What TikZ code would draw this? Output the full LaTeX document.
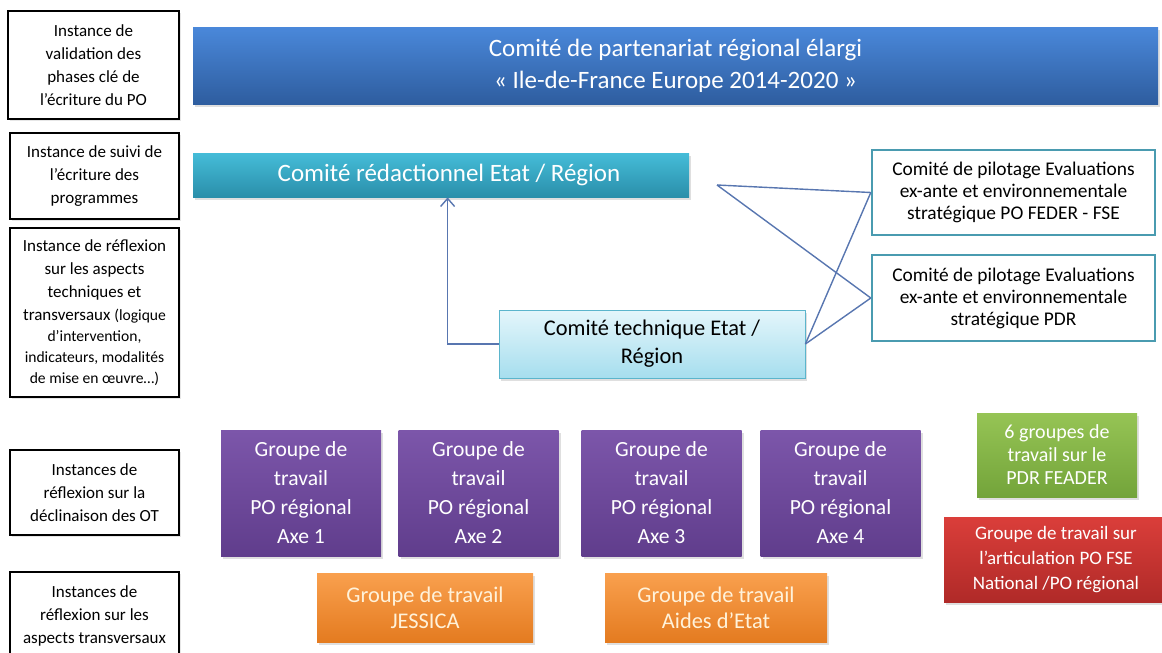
\documentclass[tikz,border=0pt]{standalone}
\usepackage{fontspec}
\setmainfont{Carlito}
\usetikzlibrary{arrows.meta,shadows}
\definecolor{linkblue}{HTML}{5876B0}
\definecolor{tealframe}{HTML}{4A9BB0}
\definecolor{gttop}{RGB}{124,86,170}
\definecolor{gtbottom}{RGB}{96,61,140}
\definecolor{orangetop}{RGB}{249,160,78}
\definecolor{orangebottom}{RGB}{228,123,32}
\definecolor{cream}{RGB}{255,242,218}
\newcommand\smallnote{\fontsize{7.8}{10}\selectfont}
\begin{document}
\begin{tikzpicture}[x=0.5pt, y=-0.5pt,
  levelbox/.style={draw=black, line width=1.3pt, fill=white, align=center, inner sep=0pt,
    minimum width=84.5pt, font=\fontsize{8.5}{11.5}\selectfont,
    drop shadow={shadow xshift=0.8pt, shadow yshift=-0.8pt, opacity=.2}},
  colbox/.style={align=center, inner sep=0pt, text=white,
    drop shadow={shadow xshift=1pt, shadow yshift=-1.5pt, opacity=.25}},
  evalbox/.style={draw=tealframe, line width=1.2pt, fill=white, align=center, inner sep=0pt,
    minimum width=141.5pt, font=\fontsize{9.7}{11}\selectfont},
  gtbox/.style={colbox, top color=gttop, bottom color=gtbottom,
    minimum width=80pt, minimum height=63pt, font=\fontsize{10.8}{14.5}\selectfont},
  orangebox/.style={colbox, text=cream, top color=orangetop, bottom color=orangebottom,
    minimum height=34.5pt, font=\fontsize{11.2}{13}\selectfont},
  link/.style={draw=linkblue, line width=0.7pt}]
\useasboundingbox (0,0) rectangle (1162,653);
\clip (0,0) rectangle (1162,653);
% left column
\node[levelbox, minimum width=85.5pt, minimum height=54pt] (lab1) at (93.5,65){Instance de\\validation des\\phases clé de\\l’écriture du PO};
\node[levelbox, minimum height=43pt] (lab2) at (94.5,176){Instance de suivi de\\l’écriture des\\programmes};
\node[levelbox, minimum height=84.5pt] (lab3) at (94.5,312.5){Instance de réflexion\\sur les aspects\\techniques et\\transversaux {\smallnote(logique}\\[-1pt]{\smallnote d’intervention,}\\[-1pt]{\smallnote indicateurs, modalités}\\[-1pt]{\smallnote de mise en œuvre…)}};
\node[levelbox, minimum height=42.5pt] (lab4) at (94.5,492.5){Instances de\\réflexion sur la\\déclinaison des OT};
\node[levelbox, minimum height=44pt] (lab5) at (94.5,616){Instances de\\réflexion sur les\\aspects transversaux};
% comites
\node[colbox, top color={rgb,255:red,74;green,136;blue,218}, bottom color={rgb,255:red,46;green,93;blue,159},
  minimum width=482.5pt, minimum height=38.5pt, font=\fontsize{12.5}{16}\selectfont] (copil) at (675.5,65.5){Comité de partenariat régional élargi\\« Ile-de-France Europe 2014-2020 »};
\node[colbox, top color={rgb,255:red,69;green,188;blue,216}, bottom color={rgb,255:red,42;green,143;blue,170},
  minimum width=248pt, minimum height=22pt, font=\fontsize{12.5}{15}\selectfont] (redac) at (441,175){\hspace{8pt}Comité rédactionnel Etat / Région};
\node[colbox, text=black, draw={rgb,255:red,91;green,181;blue,204}, top color={rgb,255:red,228;green,246;blue,251}, bottom color={rgb,255:red,166;green,222;blue,238},
  minimum width=153pt, minimum height=34pt, font=\fontsize{11.2}{14}\selectfont] (tech) at (652,344){Comité technique Etat /\\Région};
\node[evalbox, minimum height=42.5pt] (feder) at (1013.5,192.5){Comité de pilotage Evaluations\\ex-ante et environnementale\\stratégique PO FEDER - FSE};
\node[evalbox, minimum height=43pt] (pdr) at (1013.5,298){Comité de pilotage Evaluations\\ex-ante et environnementale\\stratégique PDR};
\coordinate (fork) at (717,185);
\draw[link, -{Straight Barb[length=4pt,width=7pt]}] (tech.west) -| ([xshift=127.5pt]redac.south west);
\draw[link] (fork) -- (feder.west);
\draw[link] (fork) -- (pdr.west);
\draw[link] (tech.east) -- (feder.west);
\draw[link] (tech.east) -- (pdr.west);
% groupes de travail
\node[gtbox] (gt1) at (301,493){Groupe de\\travail\\PO régional\\Axe 1};
\node[gtbox] (gt2) at (478.5,493){Groupe de\\travail\\PO régional\\Axe 2};
\node[gtbox] (gt3) at (661.5,493){Groupe de\\travail\\PO régional\\Axe 3};
\node[gtbox] (gt4) at (840.5,493){Groupe de\\travail\\PO régional\\Axe 4};
\node[orangebox, minimum width=108pt] (jessica) at (425,607.5){Groupe de travail\\JESSICA};
\node[orangebox, minimum width=111pt] (aides) at (716,607.5){Groupe de travail\\Aides d’Etat};
\node[colbox, top color={rgb,255:red,150;green,196;blue,85}, bottom color={rgb,255:red,115;green,164;blue,58},
  minimum width=80pt, minimum height=42pt, font=\fontsize{10}{11.5}\selectfont] (feader) at (1057,455){6 groupes de\\travail sur le\\PDR FEADER};
\node[colbox, top color={rgb,255:red,218;green,62;blue,58}, bottom color={rgb,255:red,176;green,42;blue,40},
  minimum width=112pt, minimum height=42.5pt, font=\fontsize{9.5}{12.5}\selectfont] (artic) at (1056,559.5){Groupe de travail sur\\l’articulation PO FSE\\National /PO régional};
\end{tikzpicture}
\end{document}
